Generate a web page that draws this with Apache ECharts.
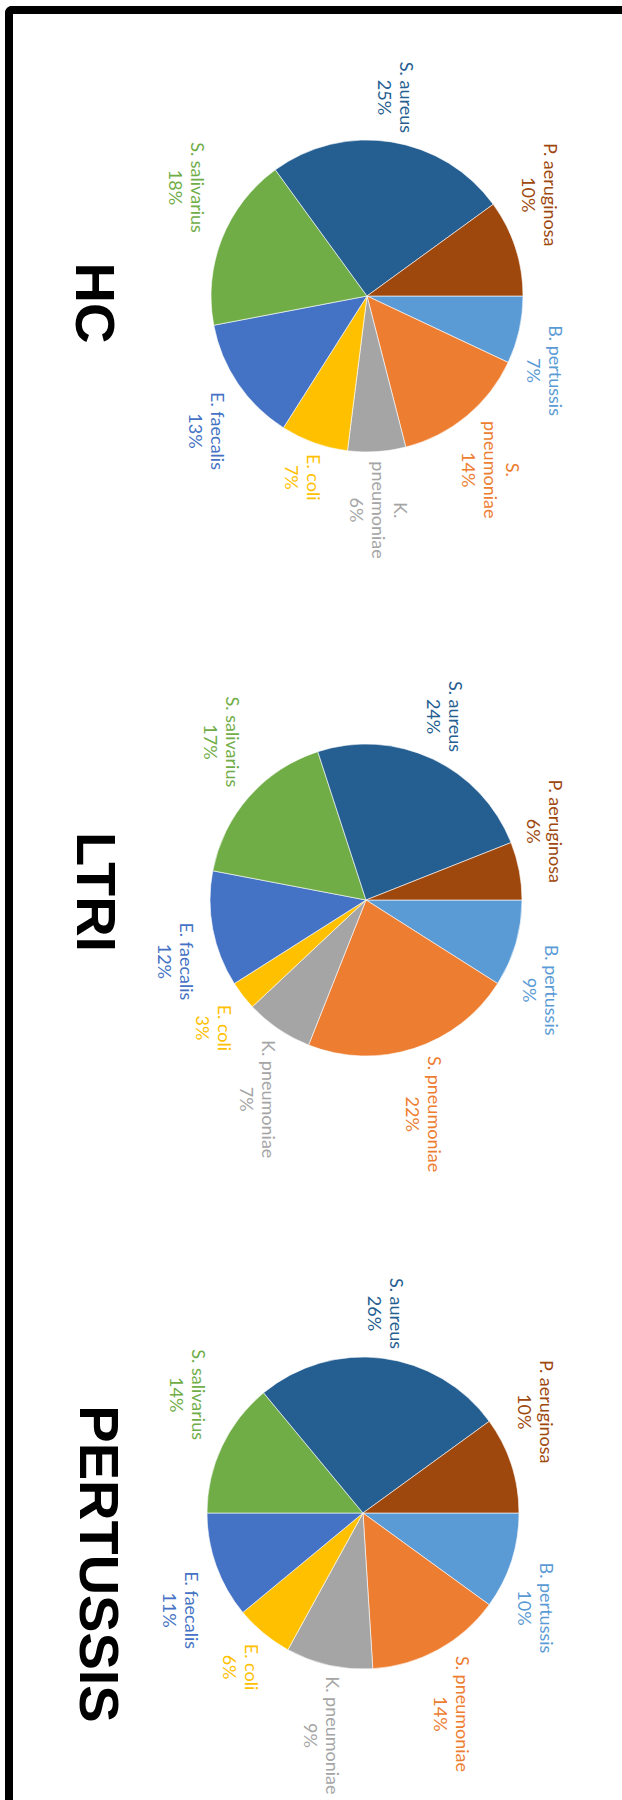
<!DOCTYPE html>
<html>
<head>
<meta charset="utf-8">
<script src="https://cdn.jsdelivr.net/npm/echarts/dist/echarts.min.js"></script>
<style>
  html, body { margin: 0; padding: 0; background: #fff; width: 622px; height: 1800px; overflow: hidden; }
  /* the chart is laid out landscape (1800 x 622) and turned a quarter turn clockwise */
  #chart {
    position: absolute; left: 0; top: 0; width: 1800px; height: 622px; z-index: 1;
    transform-origin: 0 0; transform: translateX(622px) rotate(90deg);
  }
  /* black frame along the left and top edges of the page, drawn over the chart */
  #frame {
    position: absolute; left: 5px; top: 6px; width: 700px; height: 1900px; z-index: 2;
    border-left: 8px solid #000; border-top: 8px solid #000;
    border-top-left-radius: 7px; box-sizing: border-box; pointer-events: none;
  }
</style>
</head>
<body>
<div id="chart"></div>
<div id="frame"></div>
<script>
// Bacterial species, in slice order (clockwise from the top of each pie)
const species = ['B. pertussis', 'S. pneumoniae', 'K. pneumoniae', 'E. coli',
                 'E. faecalis', 'S. salivarius', 'S. aureus', 'P. aeruginosa'];

// Share of each species (%) per group
const hcValues        = [7, 14, 6, 7, 13, 18, 25, 10];
const ltriValues      = [9, 22, 7, 3, 12, 17, 24, 6];
const pertussisValues = [10, 14, 9, 6, 11, 14, 26, 10];

const groupTitles = ['HC', 'LTRI', 'PERTUSSIS'];

// Office-style palette, one colour per species
const speciesColors = ['#5B9BD5', '#ED7D31', '#A5A5A5', '#FFC000',
                       '#4472C4', '#70AD47', '#255E91', '#9E480E'];

// Layout (landscape frame before the quarter turn)
const RADIUS = 156;
const panels = [
  { title: groupTitles[0], values: hcValues,        center: [296, 255],  titleAt: [303, 527],  wrap: ['S. pneumoniae', 'K. pneumoniae'] },
  { title: groupTitles[1], values: ltriValues,      center: [900, 256],  titleAt: [892, 526],  wrap: [] },
  { title: groupTitles[2], values: pertussisValues, center: [1513, 259], titleAt: [1564, 523], wrap: [] }
];

// Place each label just outside the rim, at the slice's mid angle,
// pushed so that its nearest corner sits on the anchor point.
function rimLabelLayout(values, cx, cy) {
  const total = values.reduce((a, b) => a + b, 0);
  const mids = [];
  let acc = 0;
  values.forEach(v => { mids.push((acc + v / 2) / total * 2 * Math.PI); acc += v; });
  return function (params) {
    const th = mids[params.dataIndex];
    const s = Math.sin(th), c = Math.cos(th);
    const w = params.labelRect.width, h = params.labelRect.height;
    const d = RADIUS + 10 - 6 * c;
    const ax = cx + d * s, ay = cy - d * c;
    const hx = Math.max(-1, Math.min(1, 4 * s));
    return { x: ax + hx * w / 2, y: ay - c * h / 2, align: 'center', verticalAlign: 'middle' };
  };
}

const chart = echarts.init(document.getElementById('chart'), null, { renderer: 'svg', width: 1800, height: 622 });

chart.setOption({
  backgroundColor: '#fff',
  animation: false,
  graphic: panels.map(p => ({
    type: 'text',
    x: p.titleAt[0],
    y: p.titleAt[1],
    style: {
      text: p.title,
      font: 'bold 56px "Liberation Sans", Arial, sans-serif',
      fill: '#000',
      align: 'center', verticalAlign: 'middle',
      textAlign: 'center', textVerticalAlign: 'middle'
    }
  })),
  series: panels.map(p => ({
    type: 'pie',
    name: p.title,
    center: p.center,
    radius: RADIUS,
    startAngle: 90,
    clockwise: true,
    avoidLabelOverlap: false,
    silent: true,
    itemStyle: { borderColor: '#ffffff', borderWidth: 0.6 },
    label: {
      show: true,
      position: 'outside',
      fontFamily: 'Lato, "Open Sans", sans-serif',
      fontSize: 18,
      lineHeight: 22,
      align: 'center',
      formatter: params => {
        const name = p.wrap.indexOf(params.name) >= 0 ? params.name.replace(' ', '\n') : params.name;
        return name + '\n' + params.value + '%';
      }
    },
    labelLine: { show: false },
    labelLayout: rimLabelLayout(p.values, p.center[0], p.center[1]),
    data: species.map((name, i) => ({
      name: name,
      value: p.values[i],
      itemStyle: { color: speciesColors[i] },
      label: { color: speciesColors[i] }
    }))
  }))
});
</script>
</body>
</html>
